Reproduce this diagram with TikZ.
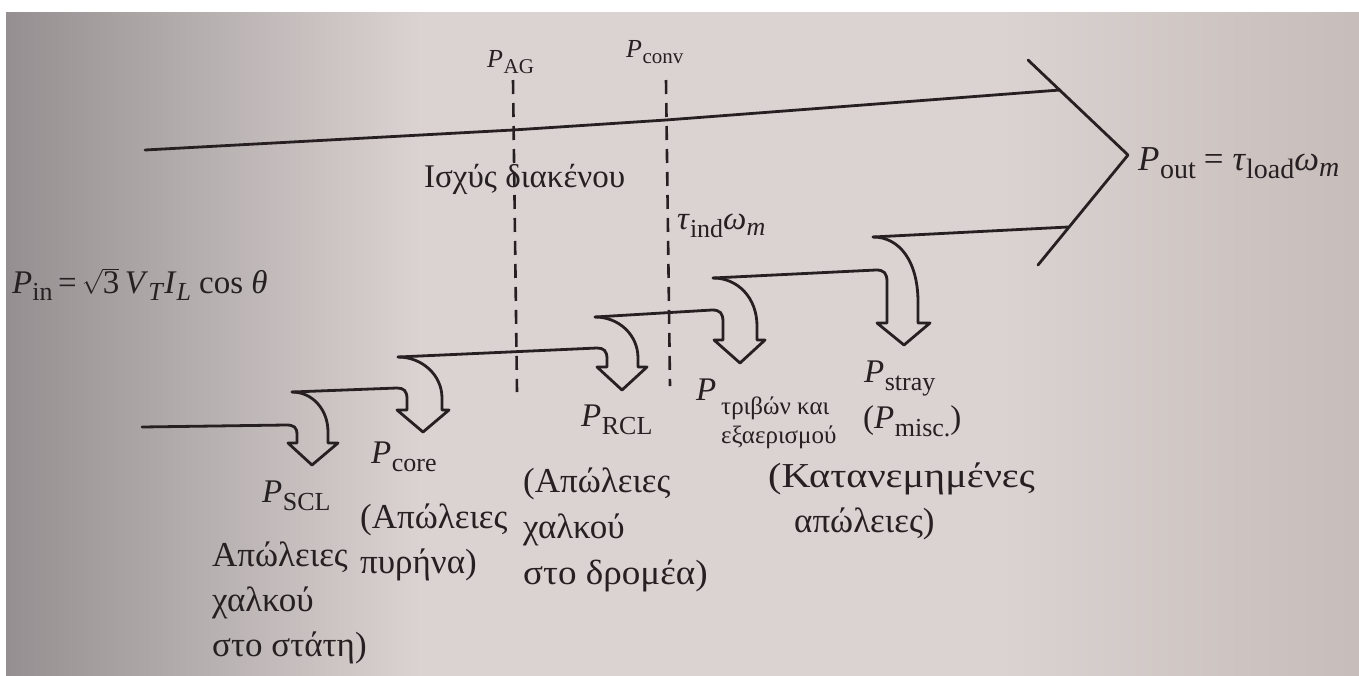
\documentclass[tikz,border=0pt]{standalone}
\usepackage{fontspec}
\setmainfont{Liberation Serif}
\definecolor{ink}{RGB}{38,32,34}
\definecolor{paper}{RGB}{218,211,209}
\definecolor{paperdark}{RGB}{150,143,145}
\definecolor{paperright}{RGB}{198,188,185}
\newcommand{\bigsz}{\fontsize{33}{46}\selectfont}
\newcommand{\txtsz}{\fontsize{35}{46}\selectfont}
\newcommand{\subsz}{\fontsize{26}{26}\selectfont}
\newcommand{\outsub}{\fontsize{28}{28}\selectfont}
\newcommand{\topsz}{\fontsize{26}{30}\selectfont}
\newcommand{\topsub}{\fontsize{21}{21}\selectfont}
\newcommand{\PS}[1]{\textit{P}\kern0.5pt\raisebox{-8pt}{\subsz #1}}
\newcommand{\PT}[1]{\textit{P}\kern0.5pt\raisebox{-6pt}{\topsub #1}}
\begin{document}
\begin{tikzpicture}[x=1pt,y=-1pt,
  flow/.style={draw=ink,line width=2.8pt,line join=round,line cap=round},
  gap/.style={draw=ink,line width=2.6pt,dash pattern=on 14pt off 9pt},
  lbl/.style={inner sep=0pt,anchor=base west,text=ink,font=\bigsz},
  txt/.style={inner sep=0pt,anchor=base west,text=ink,font=\txtsz},
  toplbl/.style={inner sep=0pt,anchor=base west,text=ink,font=\topsz},
  sublbl/.style={inner sep=0pt,anchor=base west,text=ink,font=\fontsize{25}{28}\selectfont}]
\useasboundingbox (0,0) rectangle (1359,675);
% photo background
\fill[white] (-10,-10) rectangle (1370,690);
\fill[paper] (6,12) rectangle (1370,690);
\shade[left color=paperdark,right color=paper] (6,12) rectangle (420,690);
\shade[left color=paper,right color=paperright] (1000,12) rectangle (1370,690);

% coordinates
\coordinate (t0) at (145,150);
\coordinate (t1) at (513,130);
\coordinate (t2) at (666,120);
\coordinate (t3) at (1060,90);
\coordinate (h1) at (1028,60);
\coordinate (h2) at (1128,155);
\coordinate (h3) at (1038,265);
\coordinate (b6) at (1068,227);
\coordinate (s6) at (873,237);
\coordinate (in0) at (142,427);

% main top edge and output arrowhead
\draw[flow] (t0) -- (t1) -- (t2) -- (t3);
\draw[flow] (h1) -- (h2) -- (h3);
\draw[flow] (s6) -- (b6);

% loss arrows
% stator copper loss
\draw[flow] (292,392) .. controls (312,392) and (328,409) .. (328,432) -- (328,443) -- (338,443) -- (312,465) -- (288,443) -- (297,443) -- (297,435) .. controls (297,427) and (294,425) .. (286,425) -- (in0);
% core loss
\draw[flow] (398,357) .. controls (422,357) and (442,375) .. (442,398) -- (442,410) -- (449,410) -- (423,432) -- (397,410) -- (407,410) -- (407,399) .. controls (407,391) and (404,388) .. (397,388) -- (292,392);
% rotor copper loss
\draw[flow] (595,317) .. controls (619,317) and (638,335) .. (638,358) -- (638,367) -- (647,367) -- (622,390) -- (597,367) -- (607,367) -- (607,359) .. controls (607,351) and (604,348) .. (597,348) -- (398,357);
% friction and windage
\draw[flow] (713,278) .. controls (738,278) and (757,298) .. (757,326) -- (757,340) -- (765,340) -- (740,363) -- (714,340) -- (723,340) -- (723,322) .. controls (723,313) and (720,310) .. (712,310) -- (595,317);
% stray loss
\draw[flow] (s6) .. controls (900,237) and (918,262) .. (918,302) -- (918,323) -- (930,323) -- (904,345) -- (877,323) -- (887,323) -- (887,282) .. controls (887,273) and (884,270) .. (876,270) -- (713,278);

% dashed section lines
\coordinate (ag1) at (513,80);
\coordinate (ag2) at (517,392);
\coordinate (cv1) at (666,80);
\coordinate (cv2) at (670,386);
\draw[gap] (ag1) -- (ag2);
\draw[gap] (cv1) -- (cv2);

% labels
\node[toplbl] (pag) at (487,67) {\PT{AG}};
\node[toplbl] (pconv) at (626,57) {\PT{conv}};
\node[lbl] (gap) at (424,187) {Ισχύς διακένου};
\node[lbl] (tind) at (677,229) {\textit{τ}\raisebox{-8pt}{\subsz ind}\textit{ω}\raisebox{-6pt}{\subsz\textit{m}}};
\node[lbl] (pin) at (12,293) {\textit{P}\raisebox{-7pt}{\subsz in}\,=\,$\sqrt{\mbox{3}}$\,\textit{V}\raisebox{-7pt}{\subsz\textit{T}}\textit{I}\raisebox{-7pt}{\subsz\textit{L}} cos \textit{θ}};
\node[txt] (pout) at (1138,170) {\textit{P}\kern0.5pt\raisebox{-8pt}{\outsub out}\hspace{8pt}=\hspace{9pt}\textit{τ}\raisebox{-8pt}{\outsub load}\textit{ω}\raisebox{-6pt}{\outsub\textit{m}}};

\node[lbl] (pscl) at (262,502) {\PS{SCL}};
\node[txt] (scla) at (212,566) {Απώλειες};
\node[txt] (sclb) at (212,611) {χαλκού};
\node[txt] (sclc) at (212,656) {στο στάτη)};

\node[lbl] (pcore) at (371,463) {\PS{core}};
\node[txt] (corea) at (360,528) {(Απώλειες};
\node[txt] (coreb) at (360,573) {πυρήνα)};

\node[lbl] (prcl) at (581,426) {\PS{RCL}};
\node[txt] (rcla) at (523,492) {(Απώλειες};
\node[txt] (rclb) at (523,538) {χαλκού};
\node[txt] (rclc) at (523,584) {\scalebox{1.06}[1]{στο δρομέα)}};

\node[lbl] (pfw) at (696,400) {\textit{P}};
\node[sublbl] (fwa) at (721,414) {τριβών και};
\node[sublbl] (fwb) at (721,443) {εξαερισμού};

\node[lbl] (pstray) at (864,382) {\PS{stray}};
\node[lbl] (pmisc) at (863,428) {(\PS{misc.})};
\node[txt] (stra) at (768,487) {\scalebox{1.15}[1]{(Κατανεμημένες}};
\node[txt] (strb) at (794,532) {απώλειες)};
\end{tikzpicture}
\end{document}
